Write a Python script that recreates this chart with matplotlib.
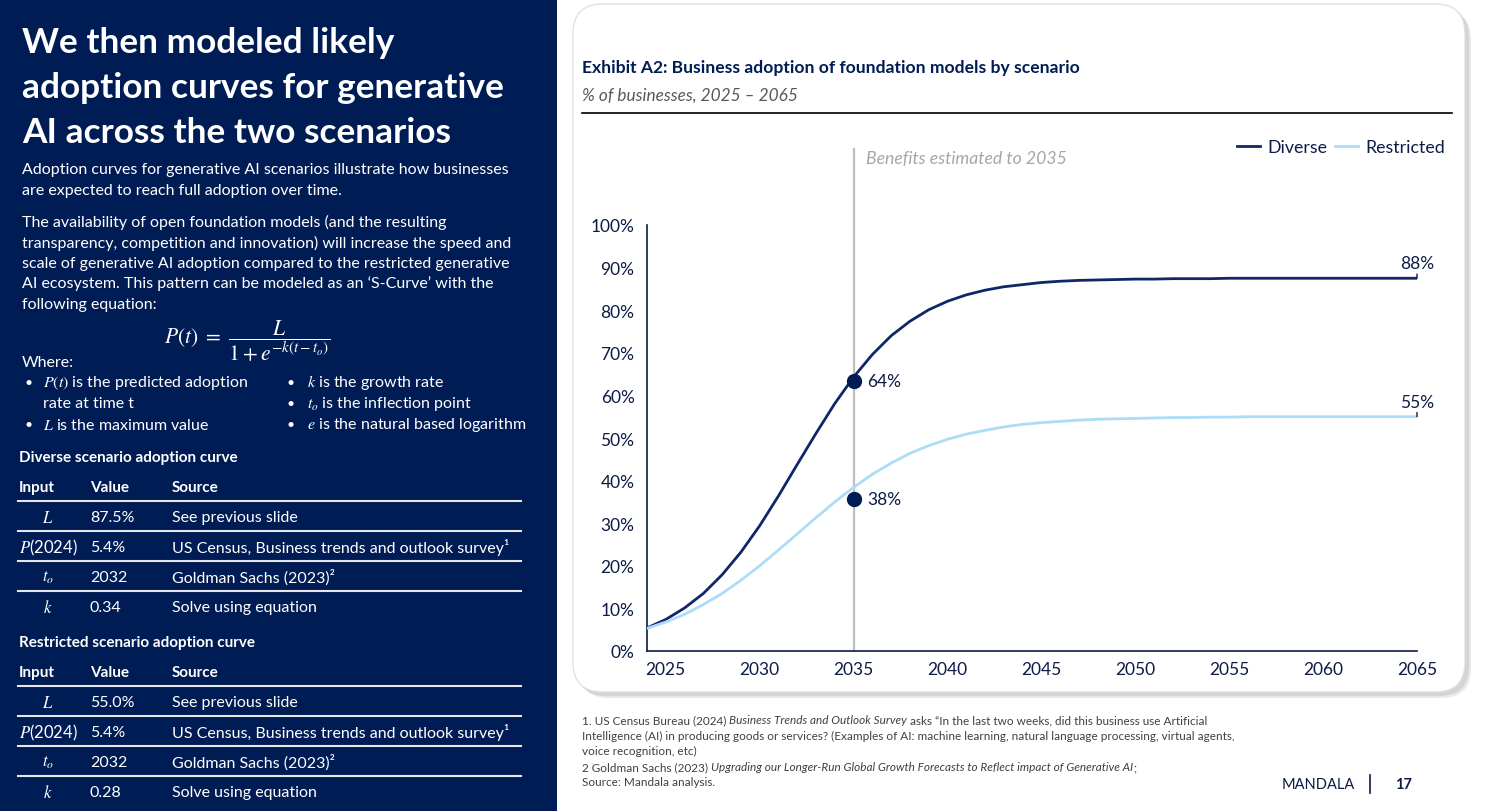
import numpy as np
import matplotlib
matplotlib.use("Agg")
import matplotlib.pyplot as plt
from matplotlib.patches import Rectangle, FancyBboxPatch
from matplotlib.text import Annotation
from matplotlib.ticker import PercentFormatter

# ---- data ----
years = list(range(2024, 2066))
diverse = [0.054, 0.074, 0.101, 0.135, 0.179, 0.232, 0.294, 0.364, 0.438, 0.511,
           0.581, 0.643, 0.696, 0.740, 0.774, 0.801, 0.821, 0.836, 0.847, 0.855,
           0.860, 0.865, 0.868, 0.870, 0.871, 0.872, 0.873, 0.873, 0.874, 0.874,
           0.874, 0.875, 0.875, 0.875, 0.875, 0.875, 0.875, 0.875, 0.875, 0.875,
           0.875, 0.875]
restricted = [0.053, 0.068, 0.086, 0.109, 0.135, 0.166, 0.200, 0.237, 0.275, 0.313,
              0.350, 0.384, 0.415, 0.441, 0.464, 0.482, 0.497, 0.509, 0.518, 0.526,
              0.532, 0.536, 0.539, 0.542, 0.544, 0.545, 0.546, 0.547, 0.548, 0.548,
              0.549, 0.549, 0.550, 0.550, 0.550, 0.550, 0.550, 0.550, 0.550, 0.550,
              0.550, 0.550]
marker_year = 2035
marker_vals = [0.634, 0.357]
marker_labels = ["64%", "38%"]
end_labels = ["88%", "55%"]
x_ticks = [2025, 2030, 2035, 2040, 2045, 2050, 2055, 2060, 2065]

table_inputs = [r"$L$", r"$P$(2024)", r"$t_o$", r"$k$"]
diverse_values = ["87.5%", "5.4%", "2032", "0.34"]
restricted_values = ["55.0%", "5.4%", "2032", "0.28"]
sources = ["See previous slide", "US Census, Business trends and outlook survey¹",
           "Goldman Sachs (2023)²", "Solve using equation"]

NAVY = "#001C54"
DARK = "#0F2767"
LIGHT = "#ADDDF6"
INK = "#0D1B45"

plt.rcParams["font.family"] = ["Lato", "DejaVu Sans"]
plt.rcParams["mathtext.fontset"] = "stix"

W, H = 1485, 812
fig = plt.figure(figsize=(W / 100, H / 100), dpi=100)
fig.patch.set_facecolor("white")


def fx(x):
    return x / W


def fy(y):
    return 1 - y / H


def txt(x, y, s, **kw):
    kw.setdefault("va", "center")
    return fig.text(fx(x), fy(y), s, **kw)


# ---- left panel ----
fig.patches.append(Rectangle((0, 0), fx(557), 1, transform=fig.transFigure,
                             facecolor=NAVY, edgecolor="none", zorder=0))

for yy, line in zip([53, 98, 143], ["We then modeled likely",
                                    "adoption curves for generative",
                                    "AI across the two scenarios"]):
    txt(22, yy, line, color="white", fontsize=25.4, fontweight="bold", va="baseline")

body = [(170, "Adoption curves for generative AI scenarios illustrate how businesses"),
        (191, "are expected to reach full adoption over time."),
        (222, "The availability of open foundation models (and the resulting"),
        (243, "transparency, competition and innovation) will increase the speed and"),
        (264, "scale of generative AI adoption compared to the restricted generative"),
        (284, "AI ecosystem. This pattern can be modeled as an ‘S-Curve’ with the"),
        (305, "following equation:")]
for yy, line in body:
    txt(22, yy, line, color="white", fontsize=11.5)

txt(247, 341, r"$P(t)\ =\ \dfrac{L}{1 + e^{-k(t - t_o)}}$", color="white",
    fontsize=15.5, ha="center")
txt(22, 363, "Where:", color="white", fontsize=11.5)

bullets = [(24, 43, 383, r"$P(t)$ is the predicted adoption"),
           (24, 43, 404, "rate at time t"),
           (24, 43, 425, r"$L$ is the maximum value"),
           (287, 307, 383, r"$k$ is the growth rate"),
           (287, 307, 404, r"$t_o$ is the inflection point"),
           (287, 307, 425, r"$e$ is the natural based logarithm")]
for bx, tx, yy, line in bullets:
    if line != "rate at time t":
        txt(bx, yy, "•", color="white", fontsize=10)
    txt(tx, yy, line, color="white", fontsize=11.5)


def draw_table(top, title, values):
    txt(19, top, title, color="white", fontsize=11, fontweight="bold")
    hy = top + 30
    txt(19, hy, "Input", color="white", fontsize=11, fontweight="bold")
    txt(90, hy, "Value", color="white", fontsize=11, fontweight="bold")
    txt(172, hy, "Source", color="white", fontsize=11, fontweight="bold")
    for i in range(4):
        ly = hy + 14 + 30 * i
        fig.add_artist(plt.Line2D([fx(18), fx(521)], [fy(ly), fy(ly)],
                                  transform=fig.transFigure, color="#E6E6E6", lw=1.5))
        ry = ly + 16
        txt(48, ry, table_inputs[i], color="white", fontsize=12, ha="center")
        txt(90, ry, values[i], color="white", fontsize=11.5)
        txt(172, ry, sources[i], color="white", fontsize=11.5)


draw_table(458, "Diverse scenario adoption curve", diverse_values)
draw_table(643, "Restricted scenario adoption curve", restricted_values)

# ---- right card ----
for off, col in [(6, "#E8E8E8"), (4, "#D4D4D4")]:
    fig.patches.append(FancyBboxPatch((fx(573 + off), fy(693 + off)), fx(892), 688 / H,
                                      boxstyle="round,pad=0,rounding_size=0.02",
                                      transform=fig.transFigure, facecolor=col,
                                      edgecolor="none", zorder=0.5,
                                      mutation_aspect=W / H))
fig.patches.append(FancyBboxPatch((fx(573), fy(693)), fx(892), 688 / H,
                                  boxstyle="round,pad=0,rounding_size=0.02",
                                  transform=fig.transFigure, facecolor="white",
                                  edgecolor="#E0E0E0", lw=1, zorder=0.6,
                                  mutation_aspect=W / H))

txt(582, 68, "Exhibit A2: Business adoption of foundation models by scenario",
    color=NAVY, fontsize=12.6, fontweight="bold")
txt(582, 96, "% of businesses, 2025 – 2065", color="#595959", fontsize=12.4,
    style="italic")
fig.add_artist(plt.Line2D([fx(582), fx(1452)], [fy(114), fy(114)],
                          transform=fig.transFigure, color="black", lw=1.2))

ax = fig.add_axes([fx(647), fy(652), 770 / W, 426 / H])
ax.set_zorder(2)
ax.set_facecolor("none")
ax.plot(years, diverse, color=DARK, lw=2, label="Diverse", zorder=3,
        solid_joinstyle="round")
ax.plot(years, restricted, color=LIGHT, lw=2, label="Restricted", zorder=3,
        solid_joinstyle="round")
ax.axvline(marker_year, ymin=0, ymax=(652 - 150) / 426, color="#BFBFBF", lw=1.6,
           clip_on=False, zorder=1)
ax.plot([marker_year] * 2, marker_vals, "o", color=NAVY, ms=10, zorder=4)
for v, lab in zip(marker_vals, marker_labels):
    ax.annotate(lab, (marker_year, v), xytext=(10, 0), textcoords="offset points",
                va="center", ha="left", fontsize=12.5, color=INK)
for series, lab in zip([diverse, restricted], end_labels):
    ax.annotate(lab, (years[-1], series[-1]), xytext=(0, 5), textcoords="offset points",
                va="bottom", ha="center", fontsize=12.5, color=INK,
                arrowprops=dict(arrowstyle="-", color=INK, lw=1, shrinkA=0, shrinkB=0))

ax.set_xlim(2024, 2065)
ax.set_ylim(0, 1)
ax.set_xticks(x_ticks)
ax.set_yticks(np.arange(0, 1.01, 0.1))
ax.yaxis.set_major_formatter(PercentFormatter(1, decimals=0))
ax.tick_params(axis="both", length=0, labelsize=12.5, labelcolor=INK)
ax.tick_params(axis="y", pad=9)
ax.tick_params(axis="x", pad=7)
for side in ["top", "right"]:
    ax.spines[side].set_visible(False)
for side in ["left", "bottom"]:
    ax.spines[side].set_color(INK)
    ax.spines[side].set_linewidth(1.2)

ax.legend(loc="center right", bbox_to_anchor=(fx(1461), fy(148)),
          bbox_transform=fig.transFigure, ncol=2, frameon=False, fontsize=12.8,
          handlelength=1.3, columnspacing=0.45, handletextpad=0.4, labelcolor=INK)

txt(866, 159, "Benefits estimated to 2035", color="#A6A6A6", fontsize=12.7,
    style="italic")

# ---- footnotes ----
FOOT = "#404040"


def chain(x, y, parts):
    last = None
    for s, st in parts:
        if last is None:
            last = txt(x, y, s, color=FOOT, fontsize=8.45, style=st, va="bottom")
        else:
            last = fig.add_artist(Annotation(s, xy=(1, 0), xycoords=last, va="bottom",
                                             ha="left", color=FOOT, fontsize=8.45,
                                             style=st))


chain(582, 726, [("1. US Census Bureau (2024) ", "normal"),
                 ("Business Trends and Outlook Survey", "italic"),
                 (" asks “In the last two weeks, did this business use Artificial", "normal")])
chain(582, 742, [("Intelligence (AI) in producing goods or services? (Examples of AI: machine learning, natural language processing, virtual agents,", "normal")])
chain(582, 757, [("voice recognition, etc)", "normal")])
chain(582, 773, [("2 Goldman Sachs (2023) ", "normal"),
                 ("Upgrading our Longer-Run Global Growth Forecasts to Reflect impact of Generative AI", "italic"),
                 (";", "normal")])
chain(582, 788, [("Source: Mandala analysis.", "normal")])

txt(1282, 785, "MANDALA", color=INK, fontsize=10.5)
fig.add_artist(plt.Line2D([fx(1370), fx(1370)], [fy(776), fy(794)],
                          transform=fig.transFigure, color=INK, lw=1.2))
txt(1395, 785, "17", color=INK, fontsize=10.5, fontweight="bold")

fig.savefig("out.png", dpi=100)
